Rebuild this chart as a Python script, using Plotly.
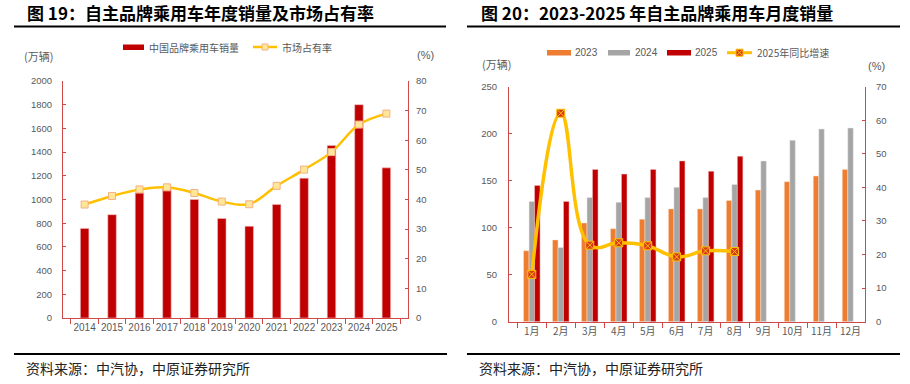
import plotly.graph_objects as go

W, H = 910, 384

# ---------------- data ----------------
years = ["2014", "2015", "2016", "2017", "2018", "2019", "2020", "2021", "2022", "2023", "2024", "2025"]
brand_sales = [756, 872, 1055, 1090, 1000, 840, 774, 958, 1180, 1455, 1800, 1267]
market_share = [38.3, 41.2, 43.4, 44.1, 42.2, 39.3, 38.4, 44.6, 50.1, 56.0, 65.3, 69.0]

months = ["1月", "2月", "3月", "4月", "5月", "6月", "7月", "8月", "9月", "10月", "11月", "12月"]
sales_2023 = [75.5, 87, 105, 99, 109, 120, 120, 129, 140, 149, 155, 162]
sales_2024 = [128, 79, 132, 127, 132, 143, 132, 146, 171, 193, 205, 206]
sales_2025 = [145, 128, 162, 157, 162, 171, 160, 176]
yoy_2025 = [14.1, 62.1, 22.8, 23.5, 22.6, 19.3, 21.1, 20.9]

RED = "#C00000"
AXIS = "#D04848"
GRAY_TXT = "#595959"
GOLD = "#FFC000"
CJK = "Noto Sans CJK SC"
NUM = "Liberation Sans"


def px(x):
    return x / W


def py(y):
    return 1 - y / H


fig = go.Figure()

# ---------------- left chart ----------------
fig.add_trace(go.Bar(x=years, y=brand_sales, marker=dict(color=RED, line=dict(color="#F2C0C0", width=0.6)),
                     width=0.31, offset=-0.155, xaxis="x", yaxis="y", showlegend=False))
fig.add_trace(go.Scatter(x=years, y=market_share, mode="lines+markers",
                         line=dict(color=GOLD, width=2.5, shape="spline", smoothing=1.0),
                         marker=dict(symbol="square", size=7, color="#FFE699", line=dict(color="#F4B183", width=1)),
                         xaxis="x", yaxis="y2", showlegend=False))

# ---------------- right chart ----------------
fig.add_trace(go.Bar(x=months, y=sales_2023, name="2023", marker=dict(color="#ED7D31", line=dict(color="#FBE0CF", width=0.5)),
                     xaxis="x3", yaxis="y3", showlegend=False))
fig.add_trace(go.Bar(x=months, y=sales_2024, name="2024", marker=dict(color="#A5A5A5", line=dict(color="#E8E8E8", width=0.5)),
                     xaxis="x3", yaxis="y3", showlegend=False))
fig.add_trace(go.Bar(x=months[:len(sales_2025)], y=sales_2025, name="2025", marker=dict(color=RED, line=dict(color="#F2C0C0", width=0.5)),
                     xaxis="x3", yaxis="y3", showlegend=False))
fig.add_trace(go.Scatter(x=months[:len(yoy_2025)], y=yoy_2025, mode="lines+markers",
                         line=dict(color=GOLD, width=3.5, shape="spline", smoothing=1.2),
                         marker=dict(symbol="square-x", size=8, color="#D9381E", line=dict(color=GOLD, width=1)),
                         xaxis="x3", yaxis="y4", showlegend=False))

tickf = dict(family=NUM, size=9.5, color=GRAY_TXT)
common_x = dict(type="category", showline=True, linecolor=AXIS, linewidth=1, ticks="outside", tickangle=0,
                tickson="boundaries", ticklen=5, tickcolor=AXIS, showgrid=False, zeroline=False,
                fixedrange=True, automargin=False)
common_y = dict(showline=True, linecolor=AXIS, linewidth=1, ticks="inside", ticklen=3, tickcolor=AXIS,
                showgrid=False, zeroline=False, tickfont=tickf, fixedrange=True, automargin=False)

fig.update_layout(
    width=W, height=H, margin=dict(l=0, r=0, t=0, b=0, autoexpand=False),
    paper_bgcolor="white", plot_bgcolor="rgba(0,0,0,0)",
    barmode="group", bargap=0.43, bargroupgap=0,
    xaxis=dict(common_x, domain=[px(63), px(408)], anchor="y", tickfont=dict(family=NUM, size=10, color=GRAY_TXT)),
    yaxis=dict(common_y, domain=[py(318), py(81)], anchor="x", range=[0, 2000], dtick=200, ticklabelstandoff=8),
    yaxis2=dict(common_y, overlaying="y", side="right", anchor="x", range=[0, 80], dtick=10, ticklabelstandoff=5),
    xaxis3=dict(common_x, domain=[px(509), px(865)], anchor="y3", tickfont=dict(family=CJK, size=10, color=GRAY_TXT)),
    yaxis3=dict(common_y, domain=[py(321.7), py(86.7)], anchor="x3", range=[0, 250], dtick=50, ticklabelstandoff=9),
    yaxis4=dict(common_y, overlaying="y3", side="right", anchor="x3", range=[0, 70], dtick=10, ticklabelstandoff=8),
)

shapes = []
annos = []


def hline(x0, x1, y, w=2, color="black"):
    shapes.append(dict(type="line", xref="paper", yref="paper", x0=px(x0), x1=px(x1), y0=py(y), y1=py(y),
                       line=dict(color=color, width=w)))


def rect(x0, x1, y0, y1, fill, lc=None, lw=0):
    shapes.append(dict(type="rect", xref="paper", yref="paper", x0=px(x0), x1=px(x1), y0=py(y0), y1=py(y1),
                       fillcolor=fill, line=dict(color=lc or fill, width=lw)))


def text(x, y, s, size, color=GRAY_TXT, family=CJK, anchor="left", weight="normal"):
    annos.append(dict(xref="paper", yref="paper", x=px(x), y=py(y), text=s, showarrow=False,
                      xanchor=anchor, yanchor="middle", font=dict(family=family, size=size, color=color, weight=weight)))


# titles
text(25, 12.5, "图 19：自主品牌乘用车年度销量及市场占有率", 17, color="black", weight="bold")
text(479, 12.5, "图 20：2023-2025 年自主品牌乘用车月度销量", 17, color="black", weight="bold")
hline(14, 446, 26.5)
hline(467, 900, 26.5)
hline(14, 447, 354)
hline(467, 900, 354)
text(24, 368, "资料来源：中汽协，中原证券研究所", 14, color="#222222")
text(477, 368, "资料来源：中汽协，中原证券研究所", 14, color="#222222")

# axis unit labels
text(22, 56, "(万辆)", 11)
text(415, 55, "(%)", 11, family=NUM)
text(480, 64, "(万辆)", 11)
text(866, 66, "(%)", 11, family=NUM)

# left legend
rect(123, 144, 44.5, 50, RED)
text(147, 47, "中国品牌乘用车销量", 10)
hline(253, 277, 47, w=2.5, color=GOLD)
rect(262, 268, 44, 50, "#FFE699", "#F4B183", 1)
text(280, 47, "市场占有率", 10)

# right legend
rect(547, 571, 50, 55.5, "#ED7D31")
text(573, 52.7, "2023", 10, family=NUM)
rect(608, 630, 50, 55.5, "#A5A5A5")
text(633, 52.7, "2024", 10, family=NUM)
rect(667, 691, 50, 55.5, RED)
text(693, 52.7, "2025", 10, family=NUM)
hline(727, 752, 52.7, w=3, color=GOLD)
rect(736, 743, 49.2, 56.2, "#D9381E", GOLD, 1)
shapes.append(dict(type="line", xref="paper", yref="paper", x0=px(737), x1=px(742), y0=py(50.2), y1=py(55.2),
                   line=dict(color=GOLD, width=1)))
shapes.append(dict(type="line", xref="paper", yref="paper", x0=px(737), x1=px(742), y0=py(55.2), y1=py(50.2),
                   line=dict(color=GOLD, width=1)))
text(755, 52.7, "2025年同比增速", 10)

fig.update_layout(shapes=shapes, annotations=annos)
fig.write_html("out.html", config={"displayModeBar": False, "staticPlot": True},
               post_script="document.body.style.margin='0';document.body.style.padding='0';"
                           "document.body.style.overflow='hidden';")
